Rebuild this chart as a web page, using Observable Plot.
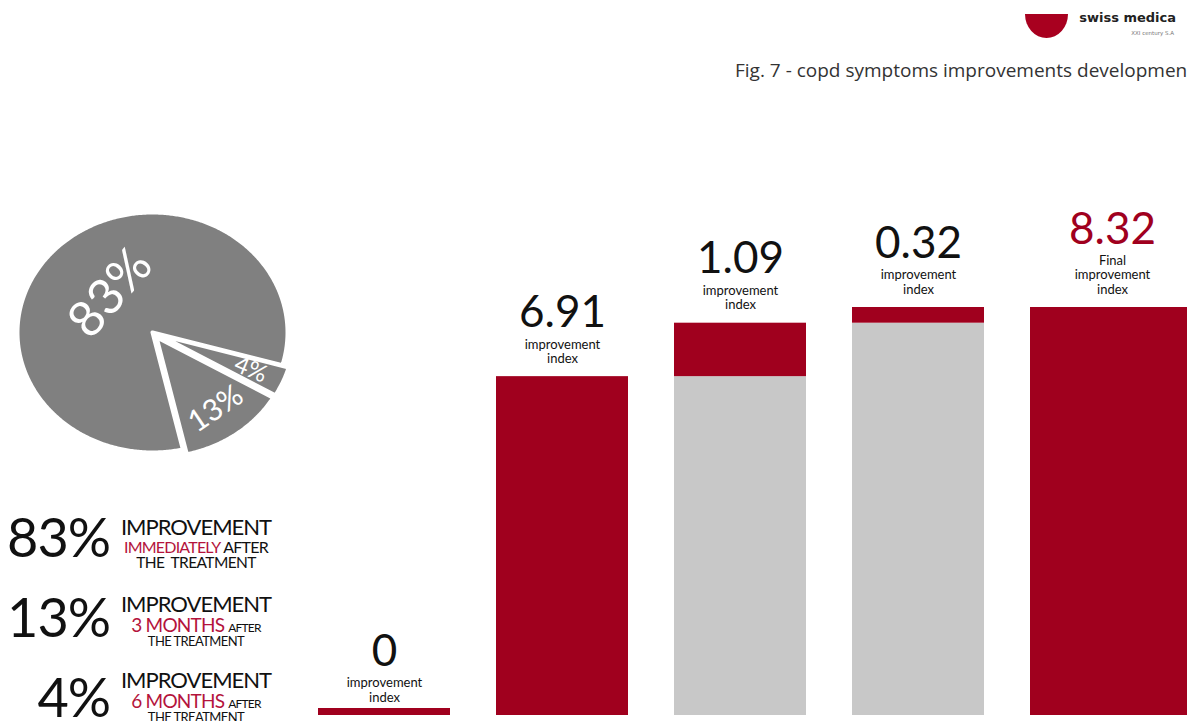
<!DOCTYPE html>
<html>
<head>
<meta charset="utf-8">
<script src="https://cdn.jsdelivr.net/npm/d3@7"></script>
<script src="https://cdn.jsdelivr.net/npm/@observablehq/plot@0.6"></script>
<style>
  html, body { margin: 0; padding: 0; background: #fff; }
  body { width: 1187px; height: 721px; overflow: hidden; position: relative; font-family: Lato, "Open Sans", sans-serif; }
  .layer { position: absolute; }
  #deco text { white-space: pre; }
</style>
</head>
<body>
<svg id="deco" class="layer" style="left:0;top:0" width="1187" height="721"></svg>
<div id="pie" class="layer" style="left:0;top:197px"></div>
<div id="bars" class="layer" style="left:0;top:150px"></div>
<script>
// Share of patients by when the improvement appeared
const shares = [83, 4, 13];
const shareLabels = ["83%", "4%", "13%"];

// Legend rows
const legendShares = [83, 13, 4];
const legendTimings = ["IMMEDIATELY", "3 MONTHS", "6 MONTHS"];

// Improvement index: waterfall stages
const stages = ["start", "immediately", "3 months", "6 months", "final"];
const steps = [0, 6.91, 1.09, 0.32];
const finalIndex = 8.32;

const RED = "#a0001e";
const GREY = "#c8c8c8";
const PIE = "#808080";

// ---------- pie ----------
const deg = Math.PI / 180;
const arcs = d3.pie().sort(null).startAngle(167 * deg).endAngle((167 + 360) * deg)(shares);
const explode = v => (v > 50 ? 0 : 0.05);

const piePts = [];
arcs.forEach((a, i) => {
  const mid = (a.startAngle + a.endAngle) / 2;
  const ox = explode(a.value) * Math.sin(mid), oy = explode(a.value) * Math.cos(mid);
  piePts.push({slice: i, x: ox, y: oy});
  const n = Math.ceil((a.endAngle - a.startAngle) / 0.01);
  for (let k = 0; k <= n; ++k) {
    const t = a.startAngle + (a.endAngle - a.startAngle) * k / n;
    piePts.push({slice: i, x: ox + Math.sin(t), y: oy + Math.cos(t)});
  }
  piePts.push({slice: i, x: ox, y: oy});
});

// label placement: big slice text sits inside, the thinnest slice gets text along it
const pieLabels = arcs.map((a, i) => {
  const mid = (a.startAngle + a.endAngle) / 2;
  const r = a.value > 50 ? 0.45 : 0.74;
  const e = explode(a.value);
  const rot = a.value > 50 ? -49 : a.value < 10 ? mid / deg - 90 : -34;
  return {label: shareLabels[i], value: a.value, x: (r + e) * Math.sin(mid), y: (r + e) * Math.cos(mid), rot};
});

const piePlot = Plot.plot({
  width: 300, height: 270,
  marginLeft: 17, marginRight: 13, marginTop: 15, marginBottom: 15,
  x: {domain: [-1, 1], axis: null},
  y: {domain: [-1, 1], axis: null},
  style: {background: "transparent", fontFamily: "Lato, sans-serif", overflow: "visible"},
  marks: [
    Plot.line(piePts, {x: "x", y: "y", z: "slice", fill: PIE, stroke: "white", strokeWidth: 4, strokeLinejoin: "round", curve: "linear"}),
    Plot.text(pieLabels, {
      x: "x", y: "y", text: "label", fill: "white", fontWeight: 400,
      fontSize: d => (d.value > 50 ? 50 : d.value < 10 ? 24 : 30),
      rotate: "rot"
    })
  ]
});
document.getElementById("pie").append(piePlot);

// ---------- waterfall bars ----------
let acc = 0;
const rows = steps.map((v, i) => {
  const r = {stage: stages[i], base: acc, top: acc + v, value: v};
  acc += v;
  return r;
});
const total = [{stage: stages[4], base: 0, top: finalIndex, value: finalIndex}];
const fmt = v => (v === 0 ? "0" : v.toFixed(2));

const barPlot = Plot.plot({
  width: 1187, height: 580,
  marginLeft: 318, marginRight: 23, marginTop: 157, marginBottom: 15,
  x: {domain: stages, paddingInner: 0.26, paddingOuter: 0, align: 0, axis: null},
  y: {domain: [0, finalIndex], axis: null},
  style: {background: "transparent", fontFamily: "Lato, sans-serif", overflow: "visible"},
  marks: [
    // earlier level carried forward
    Plot.barY(rows.filter(d => d.base > 0), {x: "stage", y1: 0, y2: "base", fill: GREY}),
    // gain at each stage
    Plot.barY(rows.filter(d => d.value > 0), {x: "stage", y1: "base", y2: "top", fill: RED}),
    // zero gain shown as a thin strip
    Plot.barY(rows.filter(d => d.value === 0), {x: "stage", y1: "base", y2: "top", fill: RED, insetTop: -7}),
    // final index
    Plot.barY(total, {x: "stage", y1: "base", y2: "top", fill: RED, insetRight: -34}),

    Plot.text(rows, {x: "stage", y: "top", text: () => "improvement\nindex", lineAnchor: "bottom", dy: -14, fontSize: 13, lineHeight: 1.08, fill: "#111"}),
    Plot.text(rows, {x: "stage", y: "top", text: d => fmt(d.value), lineAnchor: "bottom", dy: -50, fontSize: 44, fill: "#111"}),

    Plot.text(total, {x: "stage", y: "top", text: () => "Final\nimprovement\nindex", lineAnchor: "bottom", dx: 16, dy: -14, fontSize: 13, lineHeight: 1.08, fill: "#111"}),
    Plot.text(total, {x: "stage", y: "top", text: d => fmt(d.value), lineAnchor: "bottom", dx: 16, dy: -64, fontSize: 44, fill: RED})
  ]
});
document.getElementById("bars").append(barPlot);

// ---------- title, logo, legend ----------
const deco = d3.select("#deco");

// logo
deco.append("path")
  .attr("d", "M1025,14 L1068,14 A21.5,24 0 0 1 1025,14 Z")
  .attr("fill", "#a8001f");
deco.append("text").attr("x", 1176).attr("y", 22).attr("text-anchor", "end")
  .attr("font-family", "DejaVu Sans").attr("font-weight", "bold").attr("font-size", 13)
  .attr("fill", "#222").text("swiss medica");
deco.append("text").attr("x", 1174).attr("y", 35).attr("text-anchor", "end")
  .attr("font-family", "DejaVu Sans").attr("font-size", 5.5)
  .attr("fill", "#777").text("XXI century S.A");

// title
deco.append("text").attr("x", 735).attr("y", 77)
  .attr("font-family", "Open Sans").attr("font-size", 19)
  .attr("fill", "#333").text("Fig. 7 - copd symptoms improvements development");

// legend
const pctBase = [557, 637, 717];
const impBase = [535, 612, 688];
legendShares.forEach((v, i) => {
  const g = deco.append("g").attr("font-family", "Lato, sans-serif").attr("fill", "#111");
  g.append("text").attr("x", 110).attr("y", pctBase[i]).attr("text-anchor", "end")
    .attr("font-size", 54).attr("letter-spacing", -1).text(v + "%");
  g.append("text").attr("x", 196).attr("y", impBase[i]).attr("text-anchor", "middle")
    .attr("font-size", 22).attr("letter-spacing", -1).text("IMPROVEMENT");
  const l2 = g.append("text").attr("x", 196).attr("y", impBase[i] + (i === 0 ? 18 : 20))
    .attr("text-anchor", "middle").attr("letter-spacing", -0.8);
  if (i === 0) {
    l2.append("tspan").attr("fill", "#b4143c").attr("font-size", 16).text(legendTimings[i]);
    l2.append("tspan").attr("font-size", 16).attr("dx", 4).text("AFTER");
  } else {
    l2.append("tspan").attr("fill", "#b4143c").attr("font-size", 19).text(legendTimings[i]);
    l2.append("tspan").attr("font-size", 12).attr("dx", 4).text("AFTER");
  }
  g.append("text").attr("x", 196).attr("y", impBase[i] + (i === 0 ? 33 : 34))
    .attr("text-anchor", "middle").attr("letter-spacing", -0.6)
    .attr("font-size", i === 0 ? 15.5 : 13)
    .text(i === 0 ? "THE  TREATMENT" : "THE TREATMENT");
});
</script>
</body>
</html>
